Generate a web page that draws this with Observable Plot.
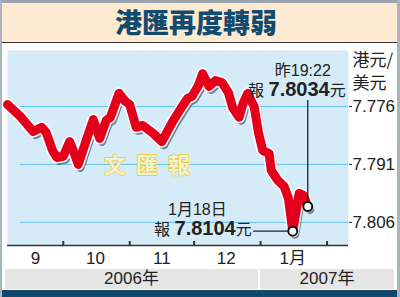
<!DOCTYPE html>
<html><head><meta charset="utf-8">
<script src="https://cdn.jsdelivr.net/npm/d3@7"></script>
<script src="https://cdn.jsdelivr.net/npm/@observablehq/plot@0.6"></script>
<style>
body{margin:0;background:#fff;}
#wrap{position:relative;width:400px;height:297px;overflow:hidden;background:#fff;font-family:"Liberation Sans",Arial,sans-serif;}
#wrap svg{position:absolute;left:0;top:0;}
.ov{position:absolute;box-sizing:border-box;}
#title{left:0;top:0;width:400px;height:43px;background:#fdead1;border-top:3px solid #9aa5ad;border-bottom:1px solid #333;text-align:center;font-family:"Noto Sans CJK TC",sans-serif;font-weight:900;font-size:27px;line-height:38px;color:#114b70;padding-right:8px;}
.yr{top:269px;height:20px;background:#e5e5e5;text-align:center;font-size:17px;line-height:20px;color:#222;font-family:"Liberation Sans","Noto Sans CJK TC",sans-serif;}
#bar{left:0;top:290px;width:400px;height:7px;background:#14486b;}
#lb{left:0;top:0;width:2px;height:297px;background:#a9b5bd;}
#rb{left:397px;top:0;width:3px;height:297px;background:#a9b5bd;}
</style></head>
<body>
<div id="wrap"></div>
<script>
// ---- data ----
const dates = ["2006-09-05","2006-09-11","2006-09-17","2006-09-21","2006-09-23","2006-09-26","2006-09-28","2006-10-01","2006-10-04","2006-10-06","2006-10-08","2006-10-12","2006-10-15","2006-10-18","2006-10-21","2006-10-23","2006-10-27","2006-10-30","2006-11-01","2006-11-04","2006-11-07","2006-11-12","2006-11-16","2006-11-21","2006-11-26","2006-11-28","2006-11-30","2006-12-03","2006-12-05","2006-12-08","2006-12-11","2006-12-14","2006-12-17","2006-12-19","2006-12-22","2006-12-24","2006-12-26","2006-12-29","2006-12-31","2007-01-02","2007-01-05","2007-01-06","2007-01-09","2007-01-12","2007-01-14","2007-01-16","2007-01-19","2007-01-21","2007-01-23"];
const rates = [7.7755,7.7786,7.7825,7.7814,7.7827,7.7874,7.7892,7.7889,7.7851,7.7879,7.7910,7.7843,7.7794,7.7843,7.7796,7.7788,7.7726,7.7747,7.7755,7.7814,7.7809,7.7830,7.7851,7.7799,7.7755,7.7739,7.7734,7.7706,7.7675,7.7708,7.7693,7.7698,7.7724,7.7763,7.7788,7.7750,7.7726,7.7760,7.7827,7.7874,7.7882,7.7926,7.7951,7.7967,7.7998,7.8083,7.7985,7.7990,7.8019];
const yTicks = [7.776, 7.791, 7.806];
const yDomain = [7.7615, 7.812];
const xDomain = ["2006-09-05","2007-02-11"];
const monthStarts = ["2006-10-01","2006-11-01","2006-12-01","2007-01-01","2007-02-01"];
const monthMids = ["2006-09-18","2006-10-16","2006-11-16","2006-12-16","2007-01-16"];
const monthLabels = ["9","10","11","12","1月"];
const yearLabels = ["2006年","2007年"];
const titleText = "港匯再度轉弱";
const unitText = "港元/\n美元";
const watermark = "文匯報";
const annoDates = ["2007-01-16","2007-01-23"];
const annoRates = [7.8083, 7.8019];
const annoWhen = ["1月18日","昨19:22"];
const annoPrice = ["7.8104","7.8034"];

const data = dates.map((d,i)=>({date:new Date(d), rate:rates[i]}));
const anno = annoDates.map((d,i)=>({date:new Date(d), rate:annoRates[i], when:annoWhen[i], price:annoPrice[i]}));
const lowPt = [anno[0]], lastPt = [anno[1]];
const lineOpts = {x:"date", y:"rate", strokeLinejoin:"round", strokeLinecap:"round"};
const cjk = "Liberation Sans, Noto Sans CJK TC";

const plot = Plot.plot({
  width:400, height:297,
  marginTop:50, marginBottom:52, marginLeft:7, marginRight:52,
  style:{background:"transparent", fontFamily:"Liberation Sans, Arial, sans-serif", fontSize:"17px", color:"#222", overflow:"visible"},
  x:{type:"utc", domain:xDomain.map(d=>new Date(d)), axis:null},
  y:{domain:yDomain, reverse:true, axis:"right", ticks:yTicks, tickFormat:d3.format(".3f"), tickSize:3, tickPadding:1, label:null},
  marks:[
    Plot.frame({fill:"#d5ebf8", stroke:"none"}),
    Plot.ruleY(yTicks, {stroke:"#62c2ec", strokeWidth:1, insetLeft:13}),
    Plot.text([watermark], {text:d=>d, frameAnchor:"middle", dx:-26, dy:18, fontSize:22, fontWeight:"bold", fontFamily:"Noto Sans CJK TC", fill:"#eef3d8", stroke:"#f2c61f", strokeWidth:1.3}),
    Plot.ruleY([yDomain[1]], {stroke:"#333", strokeWidth:1.5}),
    Plot.tickX(monthStarts.map(d=>new Date(d)), {x:d=>d, stroke:"#333", strokeWidth:2, insetTop:191}),
    Plot.text(monthMids.map((d,i)=>({date:new Date(d), label:monthLabels[i]})), {x:"date", text:"label", frameAnchor:"bottom", dy:18, fontSize:17, fontFamily:cjk}),
    Plot.text([unitText], {text:d=>d, frameAnchor:"top-right", textAnchor:"start", lineAnchor:"top", dx:4, dy:-2, lineHeight:1.41, fontSize:17, fontFamily:"Noto Sans CJK TC"}),
    // line: shadow, halo, red
    Plot.line(data, {...lineOpts, stroke:"#5a7184", strokeOpacity:0.85, strokeWidth:9, dx:2, dy:3}),
    Plot.line(data, {...lineOpts, stroke:"#fff", strokeWidth:12}),
    Plot.line(data, {...lineOpts, stroke:"#e3001b", strokeWidth:9}),
    // leaders
    Plot.ruleY(lowPt, {y:"rate", x1:"date", x2:"date", insetLeft:-39, stroke:"#222", strokeWidth:1.3}),
    Plot.ruleX(lastPt, {x:"date", y1:"rate", y2:"rate", insetTop:-106, stroke:"#222", strokeWidth:1.3}),
    Plot.dot(anno, {x:"date", y:"rate", r:4.5, fill:"#fff", stroke:"#111", strokeWidth:2}),
    // callouts
    Plot.text(lowPt, {x:"date", y:"rate", text:"when", textAnchor:"end", dx:-66, dy:-21, fontSize:16, fontFamily:cjk}),
    Plot.text(lowPt, {x:"date", y:"rate", text:d=>"報 "+d.price+"元", textAnchor:"end", dx:-41, dy:-1, fontSize:16, fontFamily:cjk}),
    Plot.text(lastPt, {x:"date", y:"rate", text:"when", textAnchor:"middle", dx:-5, dy:-136, fontSize:16, fontFamily:cjk}),
    Plot.text(lastPt, {x:"date", y:"rate", text:d=>"報 "+d.price+"元", textAnchor:"end", dx:38, dy:-116, fontSize:16, fontFamily:cjk})
  ]
});

// post-process: bold price figures, spaced watermark
d3.select(plot).selectAll("text").each(function(){
  const t = d3.select(this); const s = this.textContent;
  const m = s.match(/^(報 )([0-9.]+)(元)$/);
  if (m) {
    t.text("");
    t.append("tspan").text(m[1]);
    t.append("tspan").attr("font-weight","bold").attr("font-size",20).text(m[2]);
    t.append("tspan").text(m[3]);
  } else if (s === watermark) {
    t.attr("letter-spacing", 10);
  }
});

const wrap = document.getElementById("wrap");
wrap.appendChild(plot);
const add = (id, cls, txt, css) => { const d=document.createElement("div"); if(id) d.id=id; d.className="ov "+(cls||""); if(txt) d.textContent=txt; if(css) d.style.cssText+=css; wrap.appendChild(d); return d; };
add("title","",titleText);
add("","yr",yearLabels[0],"left:5px;width:253px;");
add("","yr",yearLabels[1],"left:260px;width:134px;");
add("bar");
add("lb"); add("rb");
</script>
</body></html>
